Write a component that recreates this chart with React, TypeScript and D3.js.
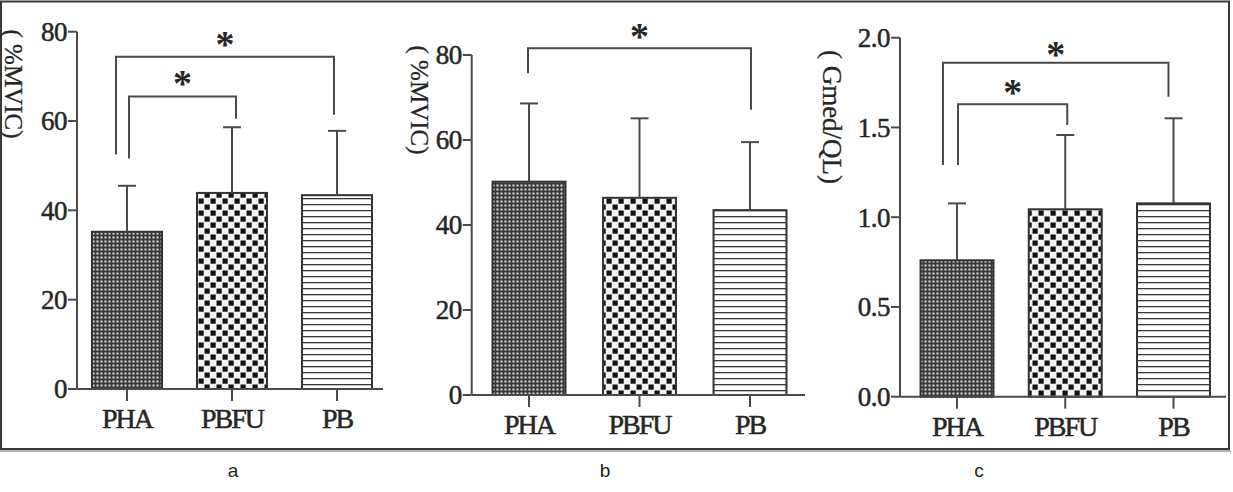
import React from "react";
import * as d3 from "d3";

const categories = ["PHA", "PBFU", "PB"];

// Panel a: %MVIC
const meansA = [35.2, 43.9, 43.4];
const upperA = [45.5, 58.6, 57.8];
const ticksA = [0, 20, 40, 60, 80];

// Panel b: %MVIC
const meansB = [50.2, 46.4, 43.5];
const upperB = [68.6, 65.1, 59.5];
const ticksB = [0, 20, 40, 60, 80];

// Panel c: Gmed/QL
const meansC = [0.76, 1.044, 1.077];
const upperC = [1.077, 1.458, 1.551];
const ticksC = [0, 0.5, 1.0, 1.5, 2.0];

// significance brackets: [fromIdx, toIdx, topValue, leftFootValue, rightFootValue, starValue]
const bracketsA = [
  [0, 2, 74.4, 52.5, 61.4, 78.2],
  [0, 1, 65.5, 51.6, 60.5, 69.3],
];
const bracketsB = [[0, 2, 81.6, 75.7, 67.1, 85.5]];
const bracketsC = [
  [0, 2, 1.861, 1.291, 1.671, 1.931],
  [0, 1, 1.629, 1.291, 1.514, 1.72],
];

const yLabels = ["( %MVIC)", "( %MVIC)", "( Gmed/QL)"];
const panelLetters = ["a", "b", "c"];

const SERIF = "'Liberation Serif', 'Times New Roman', serif";
const INK = "#262626";
const LINE = "#4a4a4a";

type Panel = {
  means: number[];
  upper: number[];
  ticks: number[];
  fmt: (v: number) => string;
  brackets: number[][];
  axisX: number;
  xEnd: number;
  y0: number;
  yTop: number;
  max: number;
  bandRange: [number, number];
  padInner: number;
  bLeftOff: [number, number];
  bRightOff: [number, number];
  label: string;
  labelX: number;
  labelY: number;
  labelSize: number;
  letter: string;
  letterX: number;
};

const panels: Panel[] = [
  {
    means: meansA, upper: upperA, ticks: ticksA, fmt: d3.format("d"), brackets: bracketsA,
    axisX: 77, xEnd: 383, y0: 389, yTop: 31.7, max: 80,
    bandRange: [74.5, 389.5], padInner: 0.333,
    bLeftOff: [-11, 2], bRightOff: [-3, 4],
    label: yLabels[0], labelX: 14, labelY: 84, labelSize: 25,
    letter: panelLetters[0], letterX: 233,
  },
  {
    means: meansB, upper: upperB, ticks: ticksB, fmt: d3.format("d"), brackets: bracketsB,
    axisX: 471.7, xEnd: 805, y0: 395, yTop: 55, max: 80,
    bandRange: [473.75, 805.25], padInner: 0.34,
    bLeftOff: [-1, 0], bRightOff: [1, 0],
    label: yLabels[1], labelX: 420, labelY: 100, labelSize: 25,
    letter: panelLetters[1], letterX: 605,
  },
  {
    means: meansC, upper: upperC, ticks: ticksC, fmt: d3.format(".1f"), brackets: bracketsC,
    axisX: 900, xEnd: 1226, y0: 396.7, yTop: 37.7, max: 2,
    bandRange: [902.9, 1227.6], padInner: 0.326,
    bLeftOff: [-14, 1], bRightOff: [-5, 2],
    label: yLabels[2], labelX: 832, labelY: 117, labelSize: 27,
    letter: panelLetters[2], letterX: 979,
  },
];

const patterns = ["patPHA", "patPBFU", "patPB"];

function PanelView({ p }: { p: Panel }) {
  const y = d3.scaleLinear().domain([0, p.max]).range([p.y0, p.yTop]);
  const x = d3
    .scaleBand<string>()
    .domain(categories)
    .range(p.bandRange)
    .paddingInner(p.padInner)
    .paddingOuter(p.padInner / 2);
  const cx = (c: string) => (x(c) as number) + x.bandwidth() / 2;
  return (
    <g>
      {/* bars */}
      {categories.map((c, i) => (
        <rect
          key={c}
          x={x(c)}
          y={y(p.means[i])}
          width={x.bandwidth()}
          height={p.y0 - y(p.means[i])}
          fill={`url(#${patterns[i]})`}
          stroke="#333"
          strokeWidth={2}
        />
      ))}
      {/* error bars */}
      {categories.map((c, i) => (
        <g key={"e" + c} stroke={LINE} strokeWidth={2} fill="none">
          <line x1={cx(c)} x2={cx(c)} y1={y(p.means[i])} y2={y(p.upper[i])} />
          <line x1={cx(c) - 9} x2={cx(c) + 9} y1={y(p.upper[i])} y2={y(p.upper[i])} />
        </g>
      ))}
      {/* y axis */}
      <line x1={p.axisX} x2={p.axisX} y1={p.y0} y2={p.yTop} stroke={LINE} strokeWidth={2} />
      {p.ticks.map((t) => (
        <g key={t}>
          <line x1={p.axisX - 9} x2={p.axisX} y1={y(t)} y2={y(t)} stroke={LINE} strokeWidth={2} />
          <text
            x={p.axisX - 10}
            y={y(t)}
            dy="0.35em"
            textAnchor="end"
            fontFamily={SERIF}
            fontSize={27}
            fill={INK}
            stroke={INK}
            strokeWidth={0.5}
            letterSpacing={-0.5}
          >
            {p.fmt(t)}
          </text>
        </g>
      ))}
      {/* x axis */}
      <line x1={p.axisX} x2={p.xEnd} y1={p.y0} y2={p.y0} stroke={LINE} strokeWidth={2} />
      {categories.map((c) => (
        <g key={"x" + c}>
          <line x1={cx(c)} x2={cx(c)} y1={p.y0} y2={p.y0 + 12} stroke={LINE} strokeWidth={2} />
          <text
            x={cx(c)}
            y={p.y0 + 39}
            textAnchor="middle"
            fontFamily={SERIF}
            fontSize={28}
            fill={INK}
            stroke={INK}
            strokeWidth={0.5}
            letterSpacing={-2}
          >
            {c}
          </text>
        </g>
      ))}
      {/* significance brackets */}
      {p.brackets.map((b, k) => {
        const [i0, i1, top, lf, rf, sv] = b;
        const xl = cx(categories[i0]) + p.bLeftOff[k];
        const xr = cx(categories[i1]) + p.bRightOff[k];
        const path = d3.path();
        path.moveTo(xl, y(lf));
        path.lineTo(xl, y(top));
        path.lineTo(xr, y(top));
        path.lineTo(xr, y(rf));
        return (
          <g key={"b" + k}>
            <path d={path.toString()} fill="none" stroke={LINE} strokeWidth={2} />
            <text
              x={(xl + xr) / 2}
              y={y(sv) + 17}
              textAnchor="middle"
              fontFamily={SERIF}
              fontWeight="bold"
              fontSize={38}
              fill={INK}
            >
              *
            </text>
          </g>
        );
      })}
      {/* y label */}
      <text
        transform={`translate(${p.labelX},${p.labelY}) rotate(90)`}
        textAnchor="middle"
        dy="0.35em"
        fontFamily={SERIF}
        fontSize={p.labelSize}
        fill={INK}
        stroke={INK}
        strokeWidth={0.3}
      >
        {p.label}
      </text>
      {/* panel letter */}
      <text
        x={p.letterX}
        y={477}
        textAnchor="middle"
        fontFamily="'Liberation Sans Narrow', 'Liberation Sans', Arial, sans-serif"
        fontSize={19}
        fill="#222"
      >
        {p.letter}
      </text>
    </g>
  );
}

export default function App() {
  return (
    <svg
      width={1233}
      height={492}
      style={{ position: "absolute", left: 0, top: 0, background: "#fff" }}
    >
      <defs>
        <pattern id="patPHA" width={4} height={4} patternUnits="userSpaceOnUse">
          <rect width={4} height={4} fill="#3a3a3a" />
          <rect x={0.5} y={0.5} width={2} height={2} fill="#e0e0e0" />
        </pattern>
        <pattern id="patPBFU" width={12} height={12} patternUnits="userSpaceOnUse">
          <rect width={12} height={12} fill="#f4f4f4" />
          <rect x={0.5} y={0.5} width={5.2} height={5.2} fill="#111" />
          <rect x={6.5} y={6.5} width={5.2} height={5.2} fill="#111" />
        </pattern>
        <pattern id="patPB" width={10} height={6} patternUnits="userSpaceOnUse">
          <rect width={10} height={6} fill="#fff" />
          <rect x={0} y={0} width={10} height={1.3} fill="#3a3a3a" />
        </pattern>
      </defs>
      <rect x={0} y={0} width={1233} height={492} fill="#fff" />
      {/* outer frame */}
      <rect x={1} y={1.5} width={1228} height={447.5} fill="none" stroke="#3a3a3a" strokeWidth={2} />
      <line x1={0} x2={1231} y1={451} y2={451} stroke="#9a9a9a" strokeWidth={1.5} />
      {panels.map((p, i) => (
        <PanelView key={i} p={p} />
      ))}
    </svg>
  );
}
